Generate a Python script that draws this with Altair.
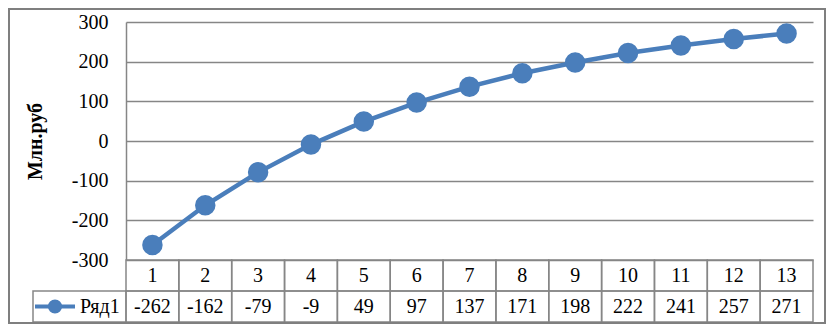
import altair as alt
import pandas as pd

# ---- data ----
categories = [1, 2, 3, 4, 5, 6, 7, 8, 9, 10, 11, 12, 13]
values = [-262, -162, -79, -9, 49, 97, 137, 171, 198, 222, 241, 257, 271]
series_name = "Ряд1"
y_ticks = [-300, -200, -100, 0, 100, 200, 300]
y_title = "Млн.руб"

BLUE = "#4a7ebb"
GRID = "#868686"
FONT = "Liberation Serif"

df = pd.DataFrame({"cat": categories, "value": values})
df["x0"] = df["cat"] - 0.5
df["x1"] = df["cat"] + 0.5
df["val_label"] = df["value"].astype(str)
df["cat_label"] = df["cat"].astype(str)
leg = pd.DataFrame({"name": [series_name]})

W, H = 687, 238
xscale = alt.Scale(domain=[0.5, 13.5], nice=False, zero=False)
yscale = alt.Scale(domain=[-300, 300], nice=False, zero=False)

base = alt.Chart(df)

line = base.mark_line(color=BLUE, strokeWidth=4.5, clip=False).encode(
    x=alt.X("cat:Q", scale=xscale, axis=None),
    y=alt.Y(
        "value:Q",
        scale=yscale,
        axis=alt.Axis(
            values=y_ticks,
            tickCount=len(y_ticks),
            labelExpr="'' + datum.value",
            labelOverlap=False,
            title=y_title,
            grid=True,
            gridColor=GRID,
            gridWidth=1.5,
            domain=True,
            domainColor=GRID,
            domainWidth=1.5,
            ticks=False,
            labelPadding=18,
            labelFont=FONT,
            labelFontSize=20,
            labelFontWeight="normal",
            labelColor="black",
            titleFont=FONT,
            titleFontSize=20,
            titleFontWeight="bold",
            titleColor="black",
            titleAngle=270,
            titleAlign="center",
            titleBaseline="middle",
            titleX=-91,
            titleY=119,
        ),
    ),
)

points = base.mark_circle(color=BLUE, size=420, opacity=1, clip=False).encode(
    x=alt.X("cat:Q", scale=xscale),
    y=alt.Y("value:Q", scale=yscale),
)

cell_style = dict(fill="transparent", stroke=GRID, strokeWidth=1.5, clip=False)

row1 = base.mark_rect(**cell_style).encode(
    x=alt.X("x0:Q", scale=xscale), x2="x1:Q",
    y=alt.value(238), y2=alt.value(269),
)
row2 = base.mark_rect(**cell_style).encode(
    x=alt.X("x0:Q", scale=xscale), x2="x1:Q",
    y=alt.value(269), y2=alt.value(300),
)

txt_style = dict(font=FONT, fontSize=20, color="black", baseline="middle", align="center", clip=False)
row1_txt = base.mark_text(**txt_style).encode(
    x=alt.X("cat:Q", scale=xscale), y=alt.value(253.5), text="cat_label:N"
)
row2_txt = base.mark_text(**txt_style).encode(
    x=alt.X("cat:Q", scale=xscale), y=alt.value(284.5), text="val_label:N"
)

lbase = alt.Chart(leg)
leg_cell = lbase.mark_rect(**cell_style).encode(
    x=alt.value(-93), x2=alt.value(0), y=alt.value(269), y2=alt.value(300),
    detail="name:N",
)
leg_line = lbase.mark_rule(color=BLUE, strokeWidth=4, clip=False).encode(
    x=alt.value(-91), x2=alt.value(-51), y=alt.value(284.5),
    detail="name:N",
)
leg_dot = lbase.mark_circle(color=BLUE, size=200, opacity=1, clip=False).encode(
    x=alt.value(-71), y=alt.value(284.5),
    detail="name:N",
)
leg_txt = lbase.mark_text(font=FONT, fontSize=20, color="black", baseline="middle",
                          align="left", clip=False).encode(
    x=alt.value(-46), y=alt.value(285), text="name:N"
)

border = lbase.mark_rect(fill="transparent", stroke="#7f7f7f", strokeWidth=2, clip=False).encode(
    x=alt.value(-117), x2=alt.value(699), y=alt.value(-13), y2=alt.value(301),
    detail="name:N",
)

chart = alt.layer(
    line, points, row1, row2, row1_txt, row2_txt,
    leg_cell, leg_line, leg_dot, leg_txt, border,
).properties(
    width=W,
    height=H,
    autosize=alt.AutoSizeParams(type="none"),
    padding={"left": 118, "top": 14, "right": 13, "bottom": 64},
    background="white",
).configure_view(strokeWidth=0)

chart.save("out.html", embed_options={"renderer": "svg", "actions": False})
